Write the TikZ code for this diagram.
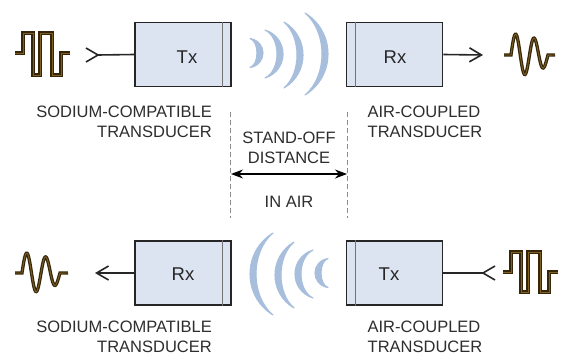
\documentclass[tikz,border=0pt]{standalone}
\usepackage{fontspec}
\setmainfont{Liberation Sans}
\usetikzlibrary{arrows.meta}
\definecolor{boxfill}{HTML}{DCE3F1}
\definecolor{wavecol}{HTML}{A7BEDC}
\definecolor{sigdark}{HTML}{35260A}
\definecolor{siggold}{HTML}{7E6024}
\definecolor{txt}{HTML}{2E2E2E}
\newcommand{\crescent}[5]{%
  \filldraw[wavecol, line width=1.1pt, line join=round]
    (#1,{#2-#3}) .. controls ({#1+4/3*#4},{#2-#5*#3}) and ({#1+4/3*#4},{#2+#5*#3}) .. (#1,{#2+#3})
    .. controls ({#1+4/3*(#4-6)},{#2+#5*#3}) and ({#1+4/3*(#4-6)},{#2-#5*#3}) .. cycle;}
\begin{document}
\begin{tikzpicture}[x=1pt,y=-1pt,
  trans/.style={draw=black!85, fill=boxfill, line width=1.8pt, minimum width=96pt, minimum height=64pt, inner sep=0pt},
  strip/.style={draw=black!55, line width=1pt},
  lbl/.style={font=\fontsize{16.5}{20}\selectfont, text=txt, inner sep=0pt},
  blk/.style={font=\fontsize{18.5}{22}\selectfont, text=black!85, inner sep=0pt},
  conn/.style={draw=black!85, line width=1.6pt},
  sig/.style={draw=sigdark, double=siggold, double distance=0.9pt, line width=1.2pt},
  guide/.style={draw=black!45, line width=1pt, dash pattern=on 5pt off 3pt},
  barb/.style={-{Straight Barb[length=12pt,width=14pt]}}]
\fill[white] (0,0) rectangle (561,356);
\useasboundingbox (0,0) rectangle (561,356);

% ---------- top row ----------
\node[trans] (tx1) at (183,54.5) {};
\draw[strip] ([xshift=-9pt]tx1.north east) -- ([xshift=-9pt]tx1.south east);
\node[blk, anchor=base] (tx1t) at (187,63) {Tx};
\node[trans] (rx1) at (394.5,54.5) {};
\draw[strip] ([xshift=10pt]rx1.north west) -- ([xshift=10pt]rx1.south west);
\node[blk, anchor=base] (rx1t) at (395,63) {Rx};

\coordinate (in1) at (98,55);
\draw[conn] (in1) -- (tx1.west);
\draw[conn, line join=miter] ([shift={(-12,-7)}]in1) -- (in1) -- ([shift={(-12,7)}]in1);
\coordinate (out1) at (483,55);
\draw[conn, barb] (rx1.east) -- (out1);

% square wave (top left)
\draw[sig] (15,53) -- (23,53) -- (23,33) -- (33,33) -- (33,75) -- (40,75) -- (40,33) -- (52,33) -- (52,75) -- (61,75) -- (61,53) -- (70,53);
% sine burst (top right)
\draw[sig] (504,55) -- (511,55) -- plot[domain=0:1, samples=70, smooth] ({511+37*\x},{55-21*sin(720*\x)*(1-0.5*\x*\x)}) -- (555,55);

% waves (top)
\crescent{250}{53}{14.5}{13}{0.8}
\crescent{265}{54}{24}{18}{0.68}
\crescent{284}{55}{33}{19}{0.55}
\crescent{305}{54}{41}{23}{0.54}

% ---------- middle ----------
\coordinate (d1t) at (230,112); \coordinate (d1b) at (230,218);
\coordinate (d2t) at (347,112); \coordinate (d2b) at (347,218);
\draw[guide] (d1t) -- (d1b);
\draw[guide] (d2t) -- (d2b);
\coordinate (a1) at (231,174); \coordinate (a2) at (347,174);
\draw[black, line width=1.3pt, {Stealth[length=12pt,width=9pt]}-{Stealth[length=12pt,width=9pt]}] (a1) -- (a2);
\node[lbl, anchor=base] (so1) at (289,143) {STAND-OFF};
\node[lbl, anchor=base] (so2) at (289,163) {DISTANCE};
\node[lbl, anchor=base] (ia) at (289,207) {IN AIR};

\node[lbl, anchor=base east] (sc1a) at (212,117) {SODIUM-COMPATIBLE};
\node[lbl, anchor=base east] (sc1b) at (212,137) {TRANSDUCER};
\node[lbl, anchor=base] (ac1a) at (424,117) {AIR-COUPLED};
\node[lbl, anchor=base] (ac1b) at (425,137) {TRANSDUCER};

% ---------- bottom row ----------
\node[trans] (rx2) at (183,273) {};
\draw[strip] ([xshift=-9pt]rx2.north east) -- ([xshift=-9pt]rx2.south east);
\node[blk, anchor=base] (rx2t) at (183,280) {Rx};
\node[trans] (tx2) at (394.5,273) {};
\draw[strip] ([xshift=10pt]tx2.north west) -- ([xshift=10pt]tx2.south west);
\node[blk, anchor=base] (tx2t) at (389,280) {Tx};

\coordinate (out2) at (95,273);
\draw[conn, barb] (rx2.west) -- (out2);
\coordinate (in2) at (483,273);
\draw[conn] (tx2.east) -- (in2);
\draw[conn, line join=miter] ([shift={(12,-7)}]in2) -- (in2) -- ([shift={(12,7)}]in2);

% sine burst (bottom left)
\draw[sig] (15,273) -- (22,273) -- plot[domain=0:1, samples=70, smooth] ({22+38*\x},{273-20*sin(720*\x)*(1-0.5*\x*\x)}) -- (68,273);
% square wave (bottom right)
\begin{scope}[shift={(488,219)}]
\draw[sig] (15,53) -- (23,53) -- (23,33) -- (33,33) -- (33,73) -- (40,73) -- (40,33) -- (52,33) -- (52,73) -- (61,73) -- (61,53) -- (70,53);
\end{scope}

% waves (bottom, mirrored)
\begin{scope}[shift={(578,220)}, xscale=-1]
\crescent{250}{53}{14.5}{13}{0.8}
\crescent{265}{54}{24}{18}{0.68}
\crescent{284}{55}{33}{19}{0.55}
\crescent{305}{54}{41}{23}{0.54}
\end{scope}

\node[lbl, anchor=base east] (sc2a) at (212,332) {SODIUM-COMPATIBLE};
\node[lbl, anchor=base east] (sc2b) at (212,352) {TRANSDUCER};
\node[lbl, anchor=base] (ac2a) at (424,332) {AIR-COUPLED};
\node[lbl, anchor=base] (ac2b) at (425,352) {TRANSDUCER};
\end{tikzpicture}
\end{document}
